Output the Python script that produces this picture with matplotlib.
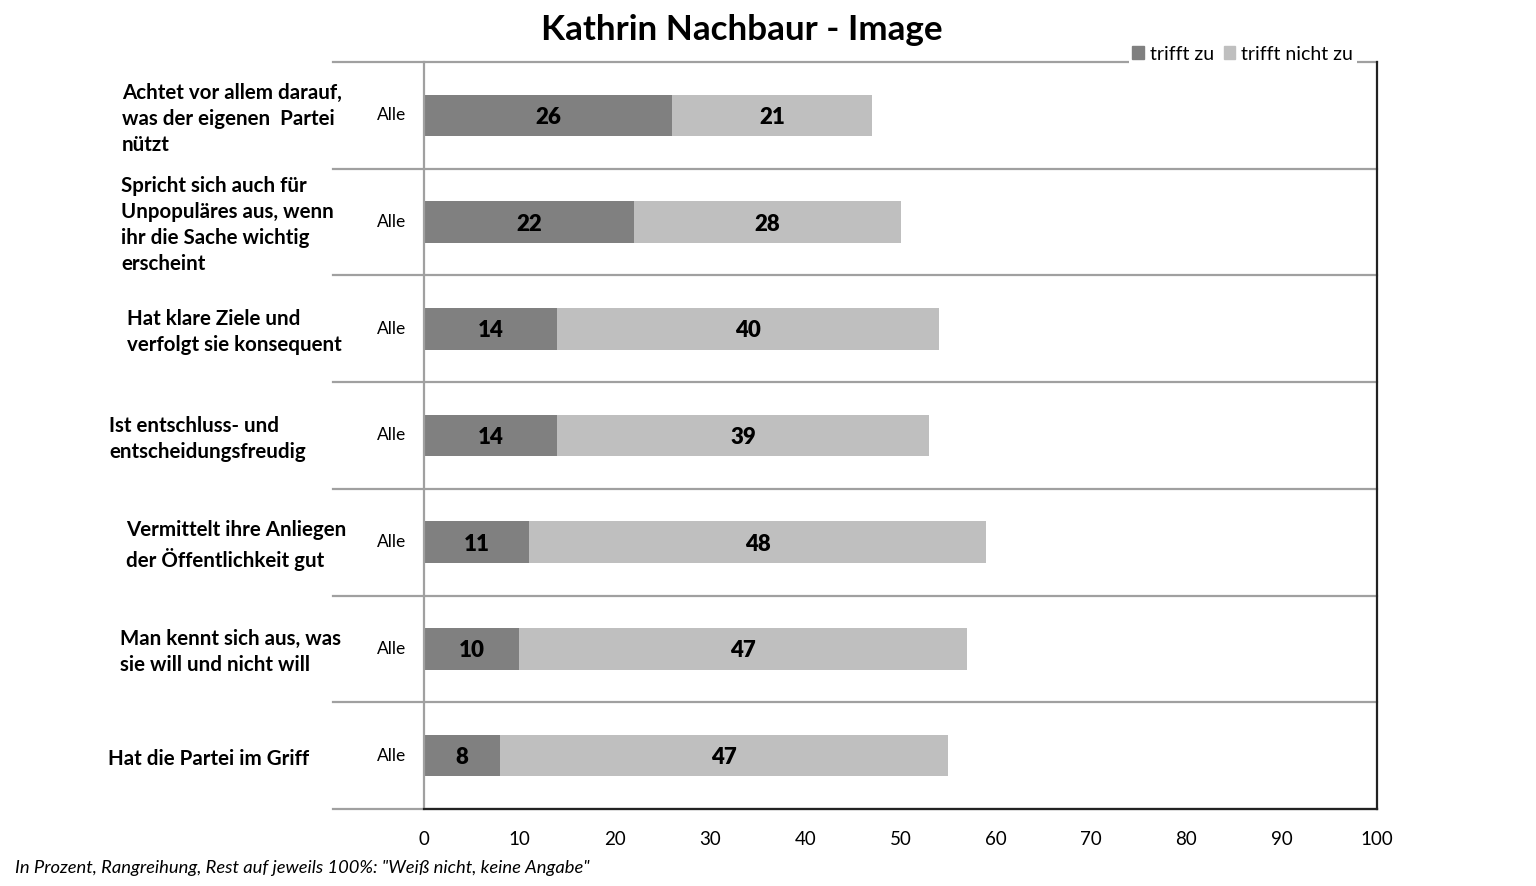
import matplotlib
matplotlib.use('Agg')
import matplotlib.pyplot as plt
from matplotlib.patches import Patch
from matplotlib.transforms import blended_transform_factory

plt.rcParams['font.family'] = ['Lato', 'DejaVu Sans']

categories = [
    "Achtet vor allem darauf,\nwas der eigenen  Partei\nnützt",
    "Spricht sich auch für\nUnpopuläres aus, wenn\nihr die Sache wichtig\nerscheint",
    "Hat klare Ziele und\nverfolgt sie konsequent",
    "Ist entschluss- und\nentscheidungsfreudig",
    "Vermittelt ihre Anliegen\nder Öffentlichkeit gut",
    "Man kennt sich aus, was\nsie will und nicht will",
    "Hat die Partei im Griff",
]
group_label = "Alle"
trifft_zu = [26, 22, 14, 14, 11, 10, 8]
trifft_nicht_zu = [21, 28, 40, 39, 48, 47, 47]
x_ticks = [0, 10, 20, 30, 40, 50, 60, 70, 80, 90, 100]

# left edge of each category label, in pixels (reference layout)
label_x_px = [122, 121, 127, 109, 126, 120, 108]

W, H = 1536, 886
DARK = '#808080'
LIGHT = '#BFBFBF'
SEP = '#A0A0A0'

fig = plt.figure(figsize=(W / 100, H / 100), dpi=100)
ax = fig.add_axes([424 / W, 1 - 809 / H, (1377 - 424) / W, (809 - 62) / H])

ypos = list(range(len(categories)))
ax.barh(ypos, trifft_zu, height=0.39, color=DARK)
ax.barh(ypos, trifft_nicht_zu, left=trifft_zu, height=0.39, color=LIGHT)

for y, a, b in zip(ypos, trifft_zu, trifft_nicht_zu):
    ax.text(a / 2, y, str(a), ha='center', va='center_baseline', fontsize=16,
            fontweight='heavy', color='black')
    ax.text(a + b / 2, y, str(b), ha='center', va='center_baseline', fontsize=16,
            fontweight='heavy', color='black')

ax.set_xlim(0, 100)
ax.set_ylim(len(categories) - 0.5, -0.5)
ax.set_xticks(x_ticks)
ax.set_yticks([])
ax.tick_params(axis='x', length=0, pad=16, labelsize=13.5)

x_left = (333 - 424) / (1377 - 424) * 100
for k in range(len(categories) + 1):
    ax.plot([x_left, 100], [k - 0.5, k - 0.5], color=SEP, lw=1.6,
            clip_on=False, zorder=1)

ax.spines['left'].set_color(SEP)
ax.spines['left'].set_linewidth(1.6)
ax.spines['top'].set_visible(False)
for s in ['bottom', 'right']:
    ax.spines[s].set_color('#222222')
    ax.spines[s].set_linewidth(1.6)
ax.spines['bottom'].set_zorder(3)

trans = blended_transform_factory(fig.transFigure, ax.transData)
for y, cat, px in zip(ypos, categories, label_x_px):
    ax.text(px / W, y + 0.03, cat, transform=trans, ha='left', va='center',
            fontsize=14.8, fontweight='bold', linespacing=1.38)
    ax.text(392 / W, y, group_label, transform=trans, ha='center',
            va='center', fontsize=12.5)

fig.text(742 / W, 1 - 30 / H, "Kathrin Nachbaur - Image", ha='center',
         va='center', fontsize=25.2, fontweight='bold')

handles = [Patch(color=DARK, label='trifft zu'),
           Patch(color=LIGHT, label='trifft nicht zu')]
leg = fig.legend(handles=handles, loc='center right',
                 bbox_to_anchor=(1357 / W, 1 - 54 / H), ncol=2, fontsize=14,
                 frameon=True, handlelength=0.6, handleheight=0.6,
                 handletextpad=0.3, columnspacing=0.5, borderpad=0.2,
                 borderaxespad=0)
leg.get_frame().set_facecolor('white')
leg.get_frame().set_edgecolor('none')
leg.get_frame().set_alpha(1)

fig.text(15 / W, 1 - 868 / H,
         'In Prozent, Rangreihung, Rest auf jeweils 100%: "Weiß nicht, keine Angabe"',
         ha='left', va='center', fontsize=13.2, style='italic')

fig.savefig('out.png', dpi=100, facecolor='white')
